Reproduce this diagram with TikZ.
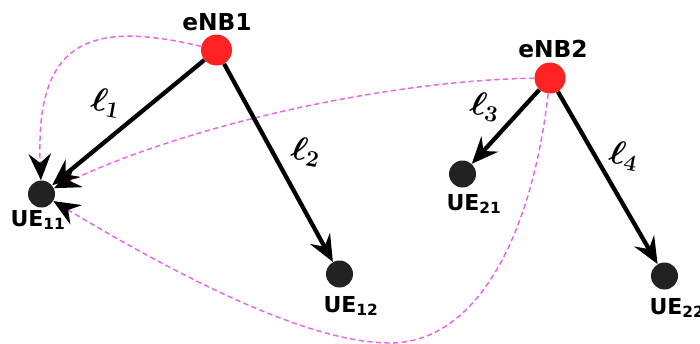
\documentclass[tikz,border=0pt]{standalone}
\usepackage{fontspec}
\setmainfont{DejaVu Sans}
\usetikzlibrary{arrows.meta}
\definecolor{enbred}{HTML}{FF2222}
\definecolor{uegray}{HTML}{222222}
\definecolor{linkpink}{HTML}{E866E8}
\begin{document}
\begin{tikzpicture}[x=0.75pt,y=-0.75pt,
 enb/.style={circle,fill=enbred,minimum size=23.25pt,inner sep=0pt},
 ue/.style={circle,fill=uegray,minimum size=20.25pt,inner sep=0pt},
 lbl/.style={font=\fontsize{16.5}{18}\selectfont\bfseries,anchor=base,inner sep=0pt},
 enblbl/.style={lbl,font=\fontsize{17.5}{19}\selectfont\bfseries},
 link/.style={line width=3.2pt,-{Stealth[length=20pt,width=17pt,inset=7pt]}},
 intf/.style={linkpink,line width=1.1pt,dash pattern=on 4pt off 2.5pt,-{Stealth[black,length=20pt,width=17pt,inset=7pt]}},
 ell/.style={font=\fontsize{26}{28}\selectfont\boldmath,rotate=-10,inner sep=0pt}]
\useasboundingbox (0,0) rectangle (700,343);
% nodes
\node[enb] (enb1) at (216.5,50) {};
\node[enb] (enb2) at (550,78) {};
\node[ue] (ue11) at (41.5,194) {};
\node[ue] (ue12) at (339.5,274) {};
\node[ue] (ue21) at (462.5,174) {};
\node[ue] (ue22) at (664.5,276) {};
% labels
\node[enblbl] (tenb1) at (217,30) {eNB1};
\node[enblbl] (tenb2) at (553,57) {eNB2};
\node[lbl] (tue11) at (38,226) {UE\textsubscript{11}};
\node[lbl] (tue12) at (351,312) {UE\textsubscript{12}};
\node[lbl] (tue21) at (474,210) {UE\textsubscript{21}};
\node[lbl] (tue22) at (677,314) {UE\textsubscript{22}};
% interference (dashed)
\draw[intf] (enb1) .. controls (90,20) and (35,40) .. (ue11);
\draw[intf] (enb2) .. controls (400,80) and (200,120) .. (ue11);
\draw[intf] (enb2) .. controls (530,250) and (470,343) .. (390,343)
  .. controls (320,343) and (210,295) .. (ue11);
% links
\draw[link] (enb1) -- (ue11);
\draw[link] (enb1) -- (ue12);
\draw[link] (enb2) -- (ue21);
\draw[link] (enb2) -- (ue22);
% link labels
\node[ell] (l1) at (106,103) {$\ell_1$};
\node[ell] (l2) at (306,152) {$\ell_2$};
\node[ell] (l3) at (485,107) {$\ell_3$};
\node[ell] (l4) at (624,156) {$\ell_4$};
\end{tikzpicture}
\end{document}
